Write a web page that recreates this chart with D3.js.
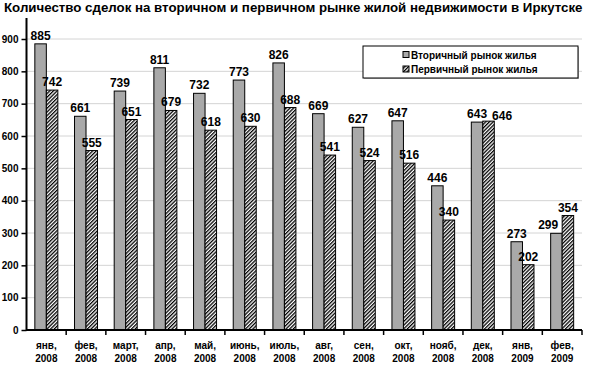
<!DOCTYPE html>
<html><head><meta charset="utf-8">
<script src="https://cdn.jsdelivr.net/npm/d3@7"></script>
<style>body{margin:0;background:#fff}svg{display:block}text{font-family:"Liberation Sans",Arial,sans-serif}</style>
</head><body>
<svg id="c" width="590" height="365"></svg>
<script>
const title = "Количество сделок на вторичном и первичном рынке жилой недвижимости в Иркутске";
const monthLabels = ["янв,","фев,","март,","апр,","май,","июнь,","июль,","авг,","сен,","окт,","нояб,","дек,","янв,","фев,"];
const yearLabels = ["2008","2008","2008","2008","2008","2008","2008","2008","2008","2008","2008","2008","2009","2009"];
const seriesNames = ["Вторичный рынок жилья","Первичный рынок жилья"];
const secondary = [885,661,739,811,732,773,826,669,627,647,446,643,273,299];
const primary = [742,555,651,679,618,630,688,541,524,516,340,646,202,354];
const yTicks = [0,100,200,300,400,500,600,700,800,900];

const svg = d3.select("#c");
const defs = svg.append("defs");
const pw = 2.6;
const pat = defs.append("pattern").attr("id","hatch").attr("patternUnits","userSpaceOnUse")
  .attr("width",pw).attr("height",pw).attr("patternTransform","rotate(45)");
pat.append("rect").attr("width",pw).attr("height",pw).attr("fill","#fff");
pat.append("rect").attr("width",pw/2).attr("height",pw).attr("fill","#000");

const pLeft = 26.5, pRight = 582, pTop = 39, pBottom = 330;
const x = d3.scaleBand().domain(d3.range(monthLabels.length)).range([pLeft,pRight]);
const y = d3.scaleLinear().domain([0,900]).range([pBottom,pTop]);
const bw = 11.5;

const titleEl = svg.append("text").attr("x",4).attr("y",12).attr("font-size",13).attr("font-weight","bold").text(title);
const tl = titleEl.node().getComputedTextLength();
titleEl.attr("font-size", 13*579/tl);

// grid
svg.append("g").selectAll("line").data(yTicks.slice(1)).join("line")
  .attr("x1",pLeft).attr("x2",pRight).attr("y1",d=>y(d)).attr("y2",d=>y(d))
  .attr("stroke","#d4d4d4").attr("stroke-width",1);

// bars
const g = svg.append("g");
const sx = i => x(i)+x.bandwidth()/2-bw;
const px = i => x(i)+x.bandwidth()/2;
g.selectAll(".s").data(secondary).join("rect")
  .attr("x",(d,i)=>sx(i)).attr("width",bw)
  .attr("y",d=>y(d)).attr("height",d=>pBottom-y(d))
  .attr("fill","#a9a9a9").attr("stroke","#000").attr("stroke-width",1);
g.selectAll(".p").data(primary).join("rect")
  .attr("x",(d,i)=>px(i)).attr("width",bw)
  .attr("y",d=>y(d)).attr("height",d=>pBottom-y(d))
  .attr("fill","url(#hatch)").attr("stroke","#000").attr("stroke-width",1);

// value labels with simple collision avoidance
const gap = 4;
secondary.forEach((s,i)=>{
  const p = primary[i];
  const ts = g.append("text").attr("text-anchor","middle").attr("font-size",12).attr("font-weight","bold").text(s);
  const tp = g.append("text").attr("text-anchor","middle").attr("font-size",12).attr("font-weight","bold").text(p);
  const ws = ts.node().getComputedTextLength(), wp = tp.node().getComputedTextLength();
  let cs = sx(i)+bw/2, cp = px(i)+bw/2;
  const ys = y(s)-gap, yp = y(p)-gap;
  if (y(p) < ys && cs+ws/2 > px(i)-4) cs = px(i)-4-ws/2;
  if (Math.abs(ys-yp) < 10 && cp-wp/2 < cs+ws/2+5) cp = cs+ws/2+5+wp/2;
  ts.attr("x",cs).attr("y",ys);
  tp.attr("x",cp).attr("y",Math.abs(ys-yp) < 10 ? y(p)-1.5 : yp);
});

// y axis
const ya = svg.append("g").attr("transform",`translate(${pLeft},0)`)
  .call(d3.axisLeft(y).tickValues(yTicks).tickSize(5).tickPadding(3));
ya.select(".domain").remove();
ya.selectAll("line").attr("stroke","#000").attr("stroke-width",1.5);
ya.selectAll("text").attr("font-size",10).attr("font-weight","bold").attr("font-family","Liberation Sans, Arial");
svg.append("line").attr("x1",pLeft).attr("x2",pLeft).attr("y1",18).attr("y2",pBottom+1)
  .attr("stroke","#000").attr("stroke-width",2);

// x axis
const xa = svg.append("g");
xa.append("line").attr("x1",pLeft).attr("x2",pRight).attr("y1",pBottom).attr("y2",pBottom)
  .attr("stroke","#000").attr("stroke-width",2);
const boundaries = d3.range(1,monthLabels.length+1).map(i=> i<monthLabels.length ? x(i) : pRight);
xa.selectAll(".t").data(boundaries).join("line")
  .attr("x1",d=>d).attr("x2",d=>d).attr("y1",pBottom).attr("y2",pBottom+5)
  .attr("stroke","#000").attr("stroke-width",1.5);
xa.selectAll(".m").data(monthLabels).join("text")
  .attr("x",(d,i)=>x(i)+x.bandwidth()/2).attr("y",349)
  .attr("text-anchor","middle").attr("font-size",10).attr("font-weight","bold").text(d=>d);
xa.selectAll(".yr").data(yearLabels).join("text")
  .attr("x",(d,i)=>x(i)+x.bandwidth()/2).attr("y",362)
  .attr("text-anchor","middle").attr("font-size",10).attr("font-weight","bold").text(d=>d);

// legend
const lg = svg.append("g");
lg.append("rect").attr("x",364).attr("y",47).attr("width",215).attr("height",32).attr("fill","#bbb");
lg.append("rect").attr("x",363).attr("y",46).attr("width",215).attr("height",32)
  .attr("fill","#fff").attr("stroke","#000").attr("stroke-width",1);
const fills = ["#a9a9a9","url(#hatch)"];
seriesNames.forEach((n,i)=>{
  const cy = 55 + i*14.5;
  lg.append("rect").attr("x",403).attr("y",cy-3.5).attr("width",6).attr("height",6)
    .attr("fill",fills[i]).attr("stroke","#000").attr("stroke-width",1);
  lg.append("text").attr("x",411).attr("y",cy+3.5).attr("font-size",10).attr("font-weight","bold").text(n);
});
</script>
</body></html>
